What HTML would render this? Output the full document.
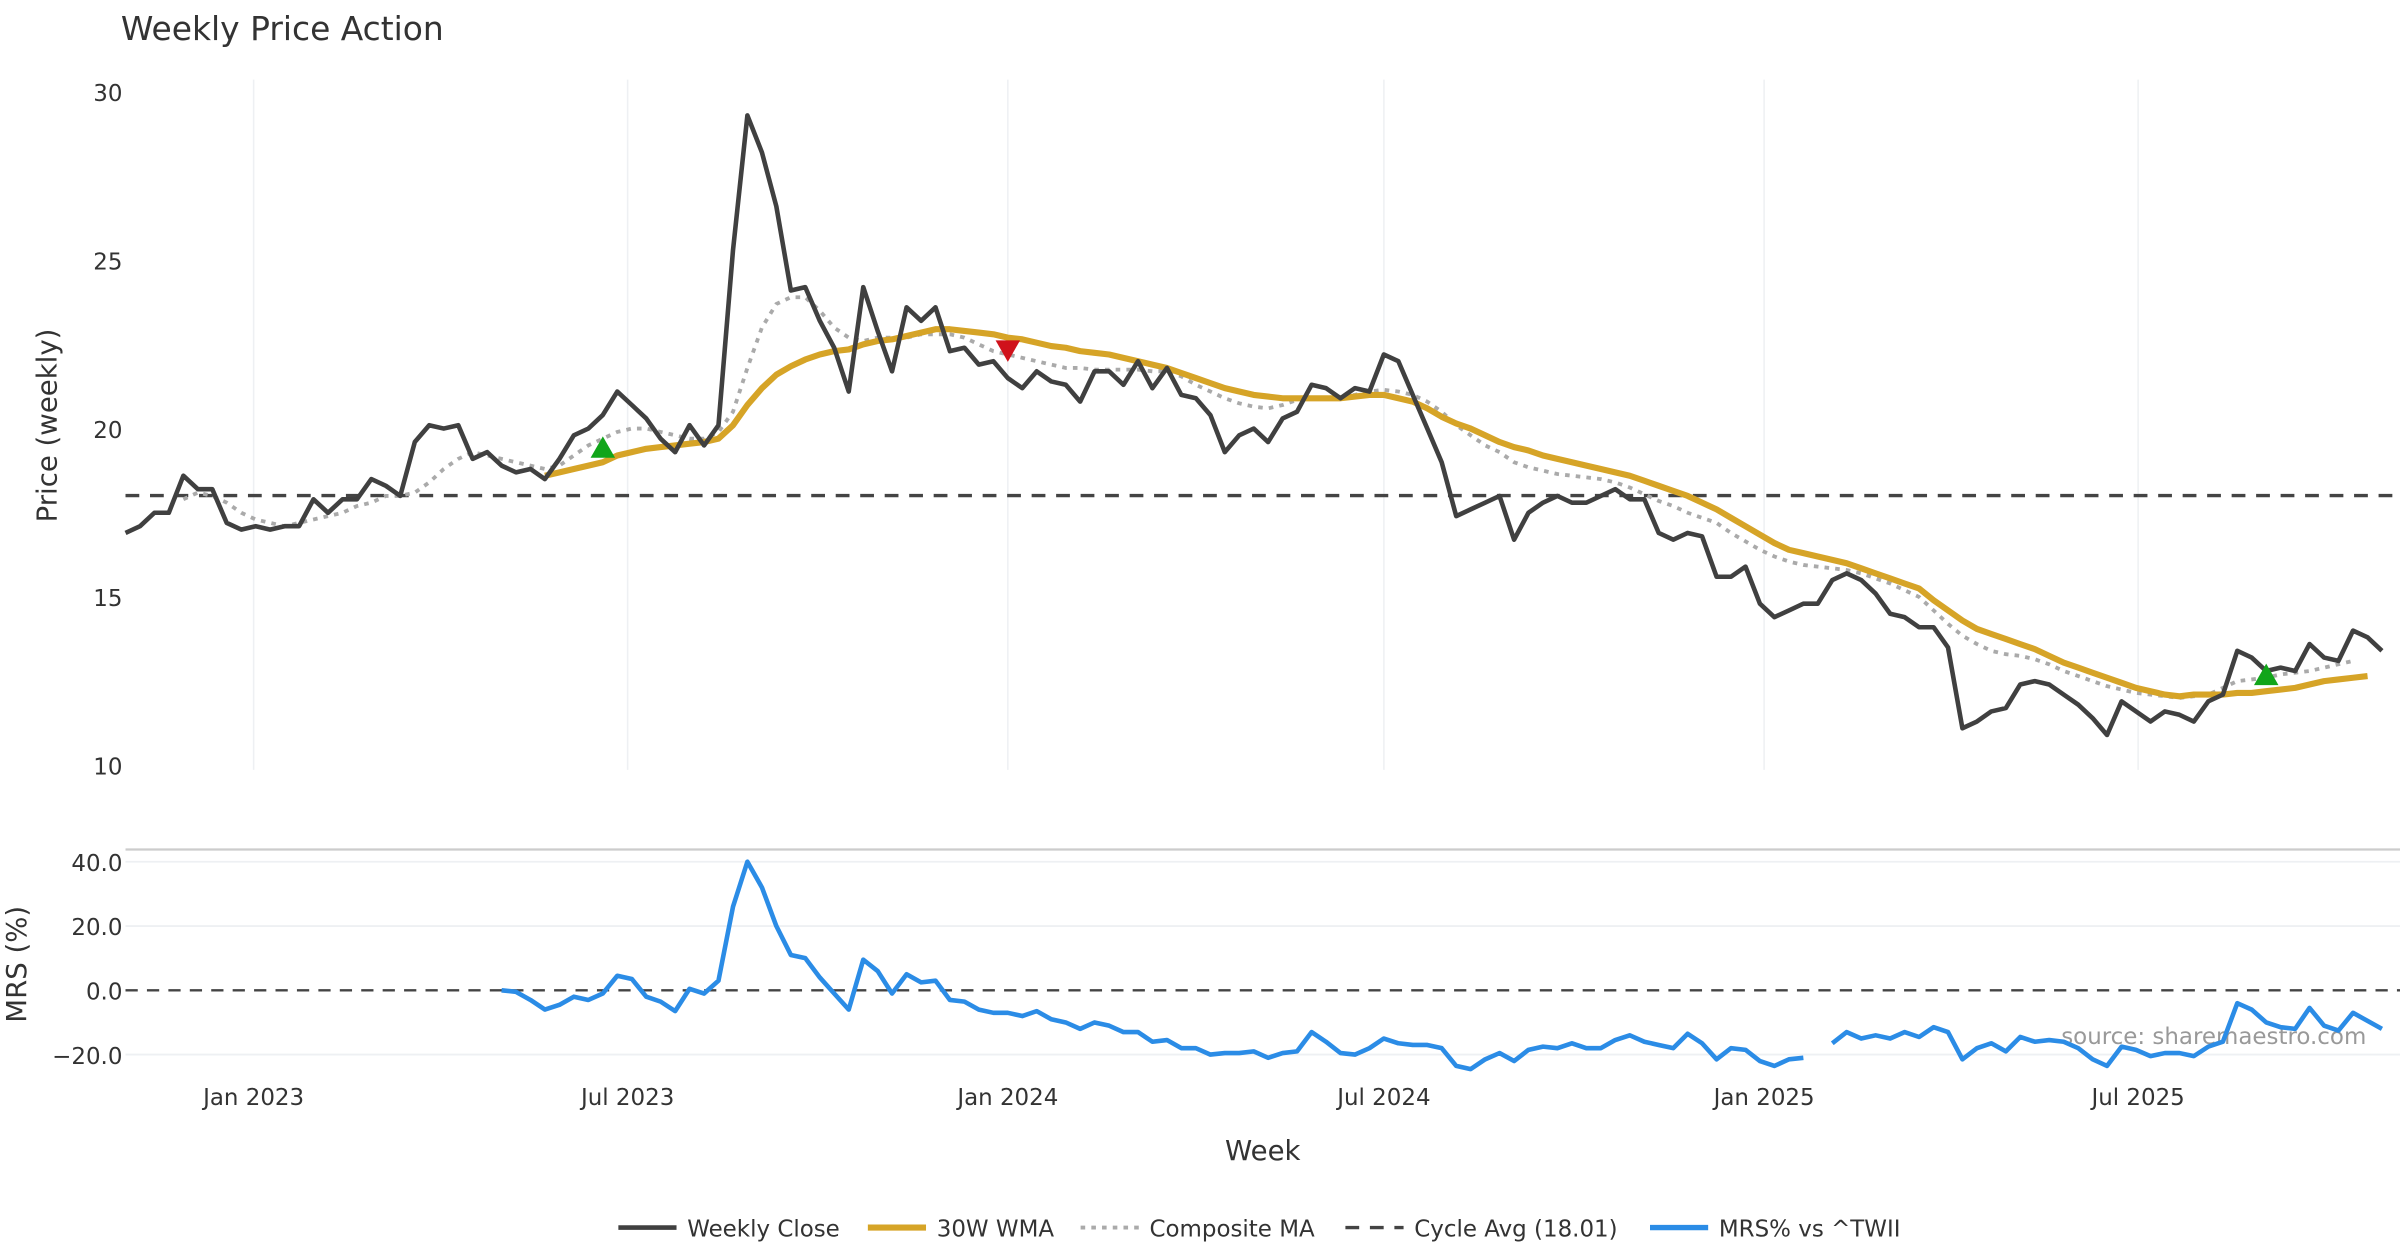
<!DOCTYPE html>
<html><head><meta charset="utf-8"><style>
html,body{margin:0;padding:0;background:#fff;}
svg{display:block;font-family:"DejaVu Sans","Liberation Sans",sans-serif;}
</style></head><body>
<svg id="chart" width="2400" height="1260" viewBox="0 0 1568 823.2" xmlns="http://www.w3.org/2000/svg">
<rect width="1568" height="823.2" fill="#fff"/>
<text x="79" y="26" font-size="21.5" fill="#333">Weekly Price Action</text>
<g id="grid"></g>
<g id="axes"></g>
<g id="series"></g>
<g id="legend"></g>
</svg>
<script>
const startDate = new Date(2022,9,31);
const close = [16.9,17.1,17.5,17.5,18.6,18.2,18.2,17.2,17.0,17.1,17.0,17.1,17.1,17.9,17.5,17.9,17.9,18.5,18.3,18.0,19.6,20.1,20.0,20.1,19.1,19.3,18.9,18.7,18.8,18.5,19.1,19.8,20.0,20.4,21.1,20.7,20.3,19.7,19.3,20.1,19.5,20.1,25.3,29.3,28.2,26.6,24.1,24.2,23.2,22.4,21.1,24.2,22.9,21.7,23.6,23.2,23.6,22.3,22.4,21.9,22.0,21.5,21.2,21.7,21.4,21.3,20.8,21.7,21.7,21.3,22.0,21.2,21.8,21.0,20.9,20.4,19.3,19.8,20.0,19.6,20.3,20.5,21.3,21.2,20.9,21.2,21.1,22.2,22.0,21.0,20.0,19.0,17.4,17.6,17.8,18.0,16.7,17.5,17.8,18.0,17.8,17.8,18.0,18.2,17.9,17.9,16.9,16.7,16.9,16.8,15.6,15.6,15.9,14.8,14.4,14.6,14.8,14.8,15.5,15.7,15.5,15.1,14.5,14.4,14.1,14.1,13.5,11.1,11.3,11.6,11.7,12.4,12.5,12.4,12.1,11.8,11.4,10.9,11.9,11.6,11.3,11.6,11.5,11.3,11.9,12.1,13.4,13.2,12.8,12.9,12.8,13.6,13.2,13.1,14.0,13.8,13.4];
const wmaStart = 29;
const wma = [18.6,18.7,18.8,18.9,19.0,19.2,19.3,19.4,19.45,19.5,19.55,19.6,19.7,20.1,20.7,21.2,21.6,21.85,22.05,22.2,22.3,22.35,22.5,22.6,22.65,22.75,22.85,22.95,22.95,22.9,22.85,22.8,22.7,22.65,22.55,22.45,22.4,22.3,22.25,22.2,22.1,22.0,21.9,21.8,21.65,21.5,21.35,21.2,21.1,21.0,20.95,20.9,20.9,20.9,20.9,20.9,20.95,21.0,21.0,20.9,20.8,20.6,20.35,20.15,20.0,19.8,19.6,19.45,19.35,19.2,19.1,19.0,18.9,18.8,18.7,18.6,18.45,18.3,18.15,18.0,17.8,17.6,17.35,17.1,16.85,16.6,16.4,16.3,16.2,16.1,16.0,15.85,15.7,15.55,15.4,15.25,14.9,14.6,14.3,14.05,13.9,13.75,13.6,13.45,13.25,13.05,12.9,12.75,12.6,12.45,12.3,12.2,12.1,12.05,12.1,12.1,12.1,12.15,12.15,12.2,12.25,12.3,12.4,12.5,12.55,12.6,12.65];
const compStart = 4;
const composite = [17.9,18.1,18.0,17.8,17.5,17.3,17.2,17.1,17.2,17.3,
17.4,17.5,17.7,17.8,18.0,18.0,18.1,18.4,18.8,19.1,
19.3,19.2,19.1,19.0,18.9,18.8,18.9,19.2,19.5,19.7,
19.9,20.0,20.0,19.9,19.8,19.7,19.7,19.9,20.5,21.8,
23.0,23.7,23.9,23.9,23.5,23.0,22.7,22.6,22.7,22.7,
22.7,22.8,22.8,22.8,22.7,22.5,22.3,22.2,22.1,22.0,
21.9,21.8,21.8,21.75,21.75,21.75,21.75,21.7,21.7,21.55,
21.3,21.1,20.9,20.75,20.65,20.6,20.7,20.85,20.9,20.9,
20.95,21.0,21.1,21.15,
21.1,21.0,20.8,20.5,20.1,19.8,19.5,19.3,19.0,18.85,
18.75,18.65,18.6,18.55,18.5,18.4,18.25,18.05,17.85,17.7,
17.5,17.35,17.2,16.9,16.65,16.4,16.2,16.05,15.95,15.9,
15.85,15.8,15.7,15.55,15.4,15.2,15.0,14.6,14.2,13.85,
13.6,13.4,13.3,13.25,13.15,13.0,12.8,12.65,12.5,12.35,
12.25,12.15,12.1,12.05,12.0,12.05,12.1,12.3,12.5,12.55,
12.6,12.7,12.75,12.8,12.9,13.0,13.1];
const mrsStart = 26;
const mrs = [0,-0.5,-3,-6,-4.5,-2,-3,-1,4.5,3.5,-2,-3.5,-6.5,0.5,-1,3,26,40,32,20,11,10,4,-1,-6,9.5,6,-1,5,2.5,3,-3,-3.5,-6,-7,-7,-8,-6.5,-9,-10,-12,-10,-11,-13,-13,-16,-15.5,-18,-18,-20,-19.5,-19.5,-19,-21,-19.5,-19,-13,-16,-19.5,-20,-18,-15,-16.5,-17,-17,-18,-23.5,-24.5,-21.5,-19.5,-22,-18.5,-17.5,-18,-16.5,-18,-18,-15.5,-14,-16,-17,-18,-13.5,-16.5,-21.5,-18,-18.5,-22,-23.5,-21.5,-21,null,-16.5,-13,-15,-14,-15,-13,-14.5,-11.5,-13,-21.5,-18,-16.5,-19,-14.5,-16,-15.5,-16,-18,-21.5,-23.5,-17.5,-18.5,-20.5,-19.5,-19.5,-20.5,-17.5,-16,-4,-6,-10,-11.5,-12,-5.5,-11,-12.5,-7,-9.5,-12];
const cycleAvg = 18.01;
const signalIdx = [33, 61, 148];
const signalType = ['buy','sell','buy'];
const signalVal = [19.45, 22.3, 12.7];
const priceTicks = [10,15,20,25,30];
const mrsTicks = [-20,0,20,40];
const mrsTickLabels = ['\u221220.0','0.0','20.0','40.0'];
const dateTicks = [new Date(2023,0,1),new Date(2023,6,1),new Date(2024,0,1),new Date(2024,6,1),new Date(2025,0,1),new Date(2025,6,1)];
const dateTickLabels = ['Jan 2023','Jul 2023','Jan 2024','Jul 2024','Jan 2025','Jul 2025'];

const NS='http://www.w3.org/2000/svg';
const X0=82, STEP=9.45, XR=1568;
const xI = i => X0 + i*STEP;
const xD = d => xI((d - startDate)/(7*86400000));
const yP = v => 500 - (v-10)*22;
const yM = v => 647 - v*2.1;
function mk(tag, parent, attrs){const e=document.createElementNS(NS,tag);for(const k in attrs)e.setAttribute(k,attrs[k]);parent.appendChild(e);return e;}
const grid=document.getElementById('grid'), axes=document.getElementById('axes'), ser=document.getElementById('series'), leg=document.getElementById('legend');

dateTicks.forEach((d,k)=>{
  const x=xD(d);
  const g1=mk('line',grid,{x1:x,x2:x,y1:52,y2:503,stroke:'#eef0f3','stroke-width':1});
  
  
  const t=mk('text',axes,{x:x,y:722,'font-size':15,'text-anchor':'middle',fill:'#333'});
  t.textContent=dateTickLabels[k];
  
  
});
priceTicks.forEach(v=>{
  const t=mk('text',axes,{x:80,y:yP(v)+6,'font-size':15,'text-anchor':'end',fill:'#333'});
  t.textContent=v;
  
  
});
mrsTicks.forEach((v,k)=>{
  if(v!==0){const l=mk('line',grid,{x1:X0,x2:XR,y1:yM(v),y2:yM(v),stroke:'#eef0f3','stroke-width':1.2});
    
    }
  const t=mk('text',axes,{x:80,y:yM(v)+6,'font-size':15,'text-anchor':'end',fill:'#333'});
  t.textContent=mrsTickLabels[k];
  
  
});
const sep=mk('line',axes,{x1:X0,x2:XR,y1:555,y2:555,stroke:'#ccc','stroke-width':1.5});


let t;
t=mk('text',axes,{x:0,y:0,'font-size':18,'text-anchor':'middle',fill:'#333',transform:'translate(37,278) rotate(-90)'});t.textContent='Price (weekly)';


t=mk('text',axes,{x:0,y:0,'font-size':18,'text-anchor':'middle',fill:'#333',transform:'translate(17,630) rotate(-90)'});t.textContent='MRS (%)';


t=mk('text',axes,{x:825,y:758,'font-size':18,'text-anchor':'middle',fill:'#333'});t.textContent='Week';


t=mk('text',axes,{x:1546,y:682,'font-size':15,'text-anchor':'end',fill:'#999'});t.textContent='source: sharemaestro.com';



const cl=mk('line',ser,{x1:X0,x2:XR,y1:yP(cycleAvg),y2:yP(cycleAvg),stroke:'#444','stroke-width':2.2,'stroke-dasharray':'9 7'});


const zl=mk('line',ser,{x1:X0,x2:XR,y1:yM(0),y2:yM(0),stroke:'#444','stroke-width':1.6,'stroke-dasharray':'8 6'});



function pathFrom(arr, off, yf){
  let d='', pen=false;
  arr.forEach((v,j)=>{ if(v===null){pen=false;return;} d+=(pen?'L':'M')+xI(off+j).toFixed(1)+','+yf(v).toFixed(1); pen=true;});
  return d;
}
let p;
p=mk('path',ser,{d:pathFrom(composite,compStart,yP),fill:'none',stroke:'#aaa','stroke-width':2.5,'stroke-dasharray':'3 4'});


p=mk('path',ser,{d:pathFrom(wma,wmaStart,yP),fill:'none',stroke:'#d6a427','stroke-width':4,'stroke-linejoin':'round'});


p=mk('path',ser,{d:pathFrom(close,0,yP),fill:'none',stroke:'#404040','stroke-width':3,'stroke-linejoin':'round'});


p=mk('path',ser,{d:pathFrom(mrs,mrsStart,yM),fill:'none',stroke:'#2b8ce6','stroke-width':3,'stroke-linejoin':'round'});



signalIdx.forEach((i,k)=>{
  const x=xI(i), y=yP(signalVal[k]);
  let pts;
  if(signalType[k]==='buy') pts=`${x-8},${y+7} ${x+8},${y+7} ${x},${y-7}`;
  else pts=`${x-8},${y-7} ${x+8},${y-7} ${x},${y+7}`;
  const m=mk('polygon',ser,{points:pts,fill:signalType[k]==='buy'?'#11a51a':'#d0121b'});
  
  
});

const legItems=[['Weekly Close','#404040',3,''],['30W WMA','#d6a427',4,''],['Composite MA','#aaa',2.5,'3 4'],['Cycle Avg (18.01)','#444',2.2,'9 7'],['MRS% vs ^TWII','#2b8ce6',3.5,'']];
const legX=[404,567,706,879,1078];
legItems.forEach((it,k)=>{
  const g=mk('g',leg,{});
  
  
  mk('line',g,{x1:legX[k],x2:legX[k]+38,y1:802,y2:802,stroke:it[1],'stroke-width':it[2],'stroke-dasharray':it[3]});
  const tx=mk('text',g,{x:legX[k]+45,y:808,'font-size':15,fill:'#333'});
  tx.textContent=it[0];
});
</script>
</body></html>
